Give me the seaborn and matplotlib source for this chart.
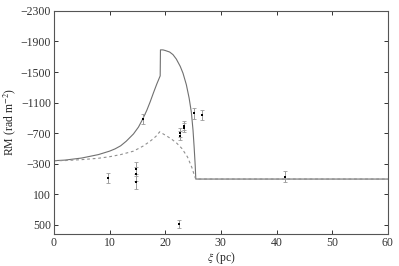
import numpy as np
import pandas as pd
import matplotlib
matplotlib.use("Agg")
import matplotlib.pyplot as plt
import seaborn as sns

sns.set_style("ticks")
plt.rcParams["font.family"] = ["Liberation Serif", "DejaVu Serif"]
plt.rcParams["mathtext.fontset"] = "stix"

# model curves (xi in pc, RM in rad m^-2)
full_x = [0, 2, 5, 8, 10, 11, 12, 13, 14.3, 15.2, 16, 16.7, 17.3, 17.9, 18.5, 19.1,
          19.15, 19.6, 20, 20.8, 21.4, 22, 22.7, 23.2, 23.8, 24.3, 24.7, 25.0,
          25.2, 25.4, 25.5, 60]
full_rm = [-340, -348, -375, -420, -465, -495, -535, -595, -690, -780, -890, -1000,
           -1110, -1230, -1345, -1450,
           -1790, -1790, -1782, -1762, -1728, -1670, -1575, -1485, -1335, -1160,
           -975, -740, -520, -270, -100, -100]

inner_x = [0, 2, 5, 8, 10, 12, 14.3, 16, 17.2, 17.9, 18.5, 19.0, 20, 21,
           22, 23, 24, 24.8, 25.3, 25.5, 60]
inner_rm = [-340, -342, -354, -372, -392, -420, -465, -530, -590, -630, -670,
            -718, -675, -630, -575, -500, -390, -250, -135, -100, -100]

# observed RMs with errors
obs_x = [9.75, 14.7, 14.7, 14.7, 16.05, 22.4, 22.75, 22.75, 23.4, 23.4, 25.25, 26.55, 41.5]
obs_rm = [-111, -229, -163, -66, -890, 490, -708, -666, -798, -772, -958, -939, -131]
obs_err = [65, 90, 90, 100, 65, 55, 60, 60, 60, 60, 70, 70, 70]

full = pd.DataFrame({"xi": full_x, "RM": full_rm})
inner = pd.DataFrame({"xi": inner_x, "RM": inner_rm})
obs = pd.DataFrame({"xi": obs_x, "RM": obs_rm, "err": obs_err})

fig = plt.figure(figsize=(3.99, 2.66), dpi=100)
ax = fig.add_axes([0.135, 0.12, 0.837, 0.839])

sns.lineplot(data=full, x="xi", y="RM", ax=ax, color="#707070", lw=0.8,
             estimator=None, sort=False)
sns.lineplot(data=inner, x="xi", y="RM", ax=ax, color="#909090", lw=0.8,
             estimator=None, sort=False, linestyle=(0, (2.5, 2.5)))

ax.errorbar(obs["xi"], obs["RM"], yerr=obs["err"], fmt="none", ecolor="#9a9a9a",
            elinewidth=0.7, capsize=1.6, capthick=0.6)
sns.scatterplot(data=obs, x="xi", y="RM", ax=ax, color="black", marker="s", s=4,
                linewidth=0, zorder=5)

ax.set_xlim(0, 60)
ax.set_ylim(620, -2300)
ax.set_xticks([0, 10, 20, 30, 40, 50, 60])
ax.set_yticks([-2300, -1900, -1500, -1100, -700, -300, 100, 500])
ax.set_xlabel(r"$\xi$ (pc)", fontsize=8.5, labelpad=1)
ax.set_ylabel(r"RM (rad m$^{-2}$)", fontsize=8.5, labelpad=2)

for s in ax.spines.values():
    s.set_visible(True)
    s.set_color("#555555")
    s.set_linewidth(0.8)
ax.tick_params(direction="in", length=3, width=0.7, colors="#333333",
               labelsize=8.5, top=True, right=True, labeltop=False, labelright=False, pad=2)

fig.savefig("out.png", dpi=100)
